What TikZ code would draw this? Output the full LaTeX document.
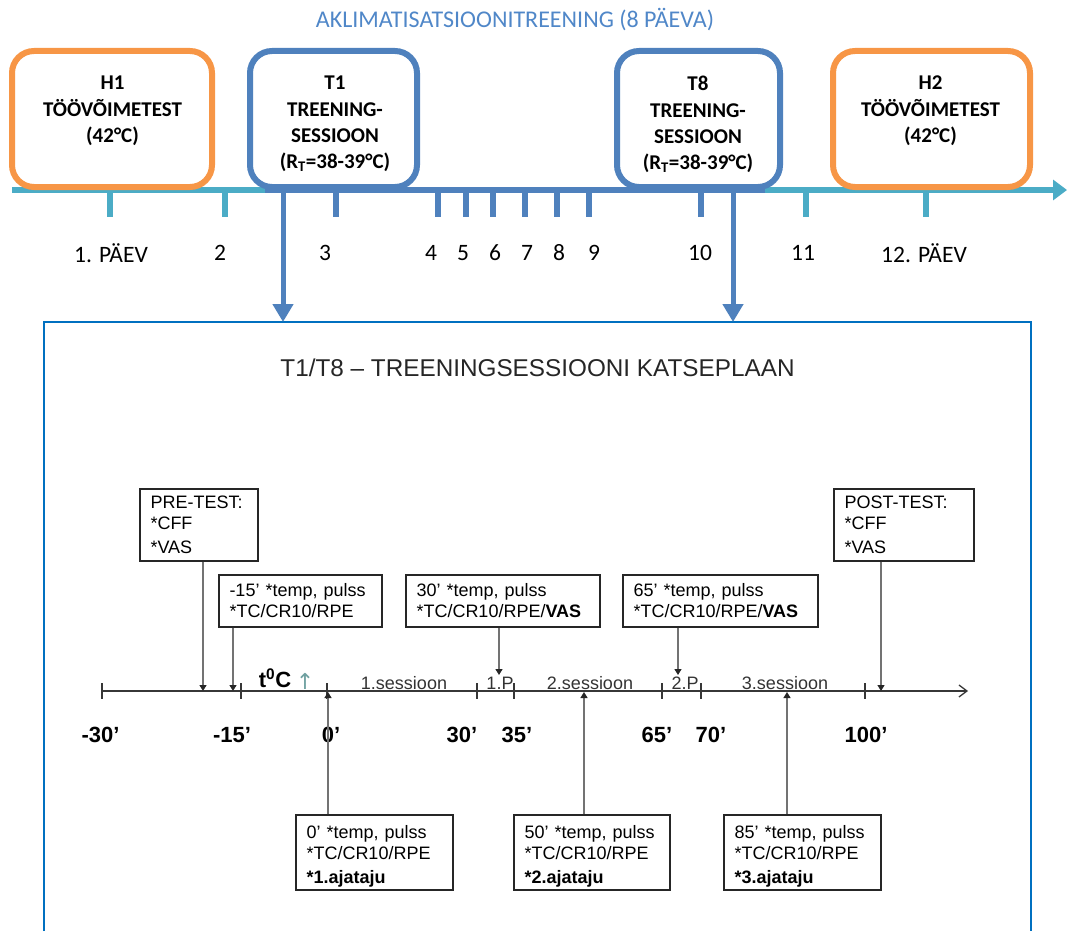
\documentclass[tikz,border=0pt]{standalone}
\usepackage{fontspec}
\setmainfont{Carlito}
\newfontfamily\arial{Liberation Sans}
\newfontfamily\djv{DejaVu Sans}
\usetikzlibrary{arrows.meta}
\definecolor{orng}{RGB}{247,150,70}
\definecolor{blu}{RGB}{79,129,189}
\definecolor{tea}{RGB}{75,172,198}
\definecolor{ttl}{RGB}{80,135,200}
\definecolor{frm}{RGB}{0,112,192}
\definecolor{axc}{RGB}{55,55,55}
\definecolor{upc}{RGB}{110,160,160}
\begin{document}
\begin{tikzpicture}[x=1pt,y=-1pt,
  bigbox/.style={draw, rounded corners=22pt, line width=6pt, fill=white, minimum height=136pt, inner sep=0pt},
  boxtext/.style={font=\bfseries\fontsize{21}{26.3}\selectfont, align=center, anchor=north, inner sep=0pt},
  daylbl/.style={font=\fontsize{23.5}{26}\selectfont, inner sep=0pt},
  tickmark/.style={line width=6pt},
  sbox/.style={draw=black!85, line width=1.3pt, fill=white, inner xsep=10.5pt, inner ysep=0pt, align=left, font=\arial\fontsize{18}{21}\selectfont},
  conn/.style={draw=black!55, line width=1.3pt, -{Triangle[length=6pt,width=7pt,color=black!85]}},
  axlbl/.style={font=\arial\bfseries\fontsize{22}{24}\selectfont, anchor=base, inner sep=0pt},
  seslbl/.style={font=\arial\fontsize{18}{20}\selectfont, text=black!80, anchor=base, inner sep=0pt},
  bigarrow/.style={blu, line width=5pt, -{Triangle[length=18pt,width=20pt]}}
]
\useasboundingbox (0,0) rectangle (1067,931);

% ---------- top part ----------
\node[font=\fontsize{24}{28}\selectfont, text=ttl] (title) at (515,20) {AKLIMATISATSIOONITREENING (8 PÄEVA)};

\coordinate (tl0) at (12,190);
\coordinate (tl1) at (1067,190);
\draw[tea, line width=6pt, -{Triangle[length=14pt,width=20pt]}] (tl0) -- (tl1);
\coordinate (bl0) at (265,190);
\coordinate (bl1) at (765,190);
\draw[blu, line width=6pt] (bl0) -- (bl1);

\foreach \x in {110,225,806,926} \draw[tea, tickmark] (\x,190) -- (\x,217);
\foreach \x in {336,438,466,493,525,557,589,701} \draw[blu, tickmark] (\x,190) -- (\x,217);

\node[daylbl] (d1) at (111,253) {1. PÄEV};
\node[daylbl] (d2) at (220,253) {2};
\node[daylbl] (d3) at (325,253) {3};
\node[daylbl] (d4) at (431,253) {4};
\node[daylbl] (d5) at (463,253) {5};
\node[daylbl] (d6) at (495,253) {6};
\node[daylbl] (d7) at (527,253) {7};
\node[daylbl] (d8) at (559,253) {8};
\node[daylbl] (d9) at (594,253) {9};
\node[daylbl] (d10) at (700,253) {10};
\node[daylbl] (d11) at (803,253) {11};
\node[daylbl] (d12) at (924,253) {12. PÄEV};

\node[bigbox, draw=orng, minimum width=200pt] (h1) at (112,119) {};
\node[bigbox, draw=blu, minimum width=167pt] (t1) at (333.5,119) {};
\node[bigbox, draw=blu, minimum width=163pt] (t8) at (698.5,119) {};
\node[bigbox, draw=orng, minimum width=197pt] (h2) at (931.5,119) {};

\node[boxtext] (h1t) at (112.5,76) {H1\\TÖÖVÕIMETEST\\(42°C)};
\node[boxtext] (t1t) at (335,76) {T1\\TREENING-\\SESSIOON\\(R\textsubscript{T}=38-39°C)};
\node[boxtext] (t8t) at (698,76) {T8\\TREENING-\\SESSIOON\\(R\textsubscript{T}=38-39°C)};
\node[boxtext] (h2t) at (930.5,76) {H2\\TÖÖVÕIMETEST\\(42°C)};

% ---------- frame ----------
\coordinate (f0) at (44,931);
\coordinate (f1) at (44,322);
\coordinate (f2) at (1031,322);
\coordinate (f3) at (1031,931);
\draw[frm, line width=2pt] (f0) -- (f1) -- (f2) -- (f3);

\coordinate (a1) at (283,322);
\coordinate (a8) at (733,322);
\draw[bigarrow] (t1.south -| a1) -- (a1);
\draw[bigarrow] (t8.south -| a8) -- (a8);

% ---------- bottom part ----------
\node[font=\arial\fontsize{24.3}{28}\selectfont, text=black!85] (title2) at (537.5,368) {T1/T8 – TREENINGSESSIOONI KATSEPLAAN};

\coordinate (ax0) at (102,691);
\coordinate (ax1) at (968,691);
\draw[axc, line width=1.3pt, -{Straight Barb[length=8pt,width=12pt]}] (ax0) -- (ax1);
\foreach \x in {102,241,327,477,514,662,701,865} \draw[axc, line width=1.3pt] (\x,683) -- (\x,699);

\node[axlbl] (lm30) at (100.5,742) {-30’};
\node[axlbl] (lm15) at (232,742) {-15’};
\node[axlbl] (l0) at (331,742) {0’};
\node[axlbl] (l30) at (462,742) {30’};
\node[axlbl] (l35) at (517,742) {35’};
\node[axlbl] (l65) at (657,742) {65’};
\node[axlbl] (l70) at (711,742) {70’};
\node[axlbl] (l100) at (866,742) {100’};

\node[font=\arial\bfseries\fontsize{22}{24}\selectfont, anchor=base, inner sep=0pt] (tc) at (275,687) {t\textsuperscript{0}C};
\node[font=\djv\fontsize{22}{24}\selectfont, text=upc, anchor=base, inner sep=0pt] (up) at (305,689) {↑};

\node[seslbl] (s1) at (404,689) {1.sessioon};
\node[seslbl] (p1) at (500,689) {1.P};
\node[seslbl] (s2) at (590,689) {2.sessioon};
\node[seslbl] (p2) at (685,689) {2.P};
\node[seslbl] (s3) at (785,689) {3.sessioon};

\node[sbox, text width=97pt, minimum height=72pt] (pre) at (199,525) {PRE-TEST:\\{}*CFF\\[3pt]{}*VAS};
\node[sbox, text width=142pt, minimum height=52pt] (m15) at (300.5,601) {-15’ *temp, pulss\\{}*TC/CR10/RPE};
\node[sbox, text width=173pt, minimum height=52pt] (b30) at (503,601) {30’ *temp, pulss\\{}*TC/CR10/RPE/\textbf{VAS}};
\node[sbox, text width=174pt, minimum height=52pt] (b65) at (720.5,601) {65’ *temp, pulss\\{}*TC/CR10/RPE/\textbf{VAS}};
\node[sbox, text width=119pt, minimum height=72pt] (post) at (904,525) {POST-TEST:\\{}*CFF\\[3pt]{}*VAS};
\node[sbox, text width=136pt, minimum height=75pt] (z0) at (374.5,852.5) {\rule{0pt}{20pt}0’ *temp, pulss\\{}*TC/CR10/RPE\\[3pt]\textbf{*1.ajataju}};
\node[sbox, text width=135pt, minimum height=75pt] (b50) at (592,852.5) {\rule{0pt}{20pt}50’ *temp, pulss\\{}*TC/CR10/RPE\\[3pt]\textbf{*2.ajataju}};
\node[sbox, text width=136pt, minimum height=75pt] (b85) at (802.5,852.5) {\rule{0pt}{20pt}85’ *temp, pulss\\{}*TC/CR10/RPE\\[3pt]\textbf{*3.ajataju}};

\coordinate (cpre) at (203,691);
\coordinate (cm15) at (233,691);
\coordinate (c30) at (499,675);
\coordinate (c65) at (678,675);
\coordinate (cpost) at (881,691);
\coordinate (cz0) at (328,692);
\coordinate (c50) at (584,692);
\coordinate (c85) at (787,692);

\draw[conn] (pre.south -| cpre) -- (cpre);
\draw[conn] (m15.south -| cm15) -- (cm15);
\draw[conn] (b30.south -| c30) -- (c30);
\draw[conn] (b65.south -| c65) -- (c65);
\draw[conn] (post.south -| cpost) -- (cpost);
\draw[conn] (z0.north -| cz0) -- (cz0);
\draw[conn] (b50.north -| c50) -- (c50);
\draw[conn] (b85.north -| c85) -- (c85);
\end{tikzpicture}
\end{document}
